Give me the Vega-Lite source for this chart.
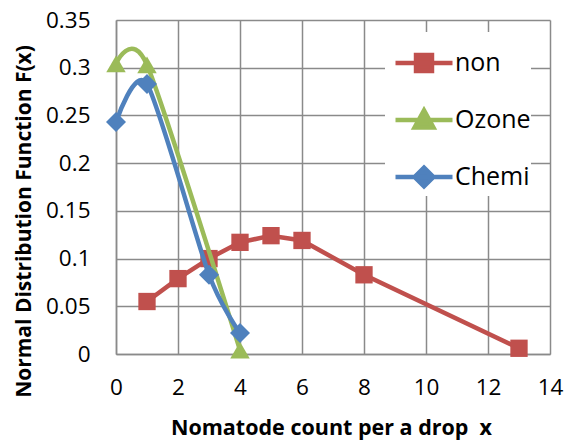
{
  "$schema": "https://vega.github.io/schema/vega-lite/v6.json",
  "autosize": {"type": "none"},
  "width": 434,
  "height": 334,
  "padding": {"left": 116, "top": 20, "right": 15, "bottom": 86},
  "background": "white",
  "config": {
    "view": {"stroke": null},
    "font": "Open Sans"
  },
  "data": {
    "values": [
      {"series": "non", "x": 1, "y": 0.055},
      {"series": "non", "x": 2, "y": 0.079},
      {"series": "non", "x": 3, "y": 0.100},
      {"series": "non", "x": 4, "y": 0.117},
      {"series": "non", "x": 5, "y": 0.124},
      {"series": "non", "x": 6, "y": 0.119},
      {"series": "non", "x": 8, "y": 0.083},
      {"series": "non", "x": 13, "y": 0.006},
      {"series": "Ozone", "x": 0, "y": 0.304},
      {"series": "Ozone", "x": 1, "y": 0.303},
      {"series": "Ozone", "x": 4, "y": 0.004},
      {"series": "Chemi", "x": 0, "y": 0.243},
      {"series": "Chemi", "x": 1, "y": 0.283},
      {"series": "Chemi", "x": 3, "y": 0.083},
      {"series": "Chemi", "x": 4, "y": 0.022}
    ]
  },
  "encoding": {
    "x": {
      "field": "x", "type": "quantitative",
      "scale": {"domain": [0, 14], "nice": false, "zero": false},
      "axis": {
        "values": [0, 2, 4, 6, 8, 10, 12, 14],
        "title": "Nomatode count per a drop\u00a0\u00a0x",
        "grid": true, "gridColor": "#8a8a8a", "gridWidth": 1.5,
        "domainColor": "#8a8a8a", "domainWidth": 1.5,
        "ticks": false, "labelFlush": false,
        "labelFontSize": 22.5, "labelColor": "#000", "labelPadding": 40,
        "labelBaseline": "alphabetic",
        "titleFontSize": 21.5, "titleFontWeight": "bold", "titleColor": "#000",
        "titleX": 215, "titleY": 80, "titleBaseline": "alphabetic", "titleAnchor": null
      }
    },
    "y": {
      "field": "y", "type": "quantitative",
      "scale": {"domain": [0, 0.35], "nice": false},
      "axis": {
        "values": [0, 0.05, 0.1, 0.15, 0.2, 0.25, 0.3, 0.35],
        "format": ".2~f",
        "title": "Normal Distribution Function F(x)",
        "grid": true, "gridColor": "#8a8a8a", "gridWidth": 1.5,
        "domainColor": "#8a8a8a", "domainWidth": 1.5,
        "ticks": false, "labelFlush": false,
        "labelFontSize": 22.5, "labelColor": "#000", "labelPadding": 26,
        "titleFontSize": 21, "titleFontWeight": "bold", "titleColor": "#000",
        "titleX": -86, "titleY": 201, "titleBaseline": "alphabetic", "titleAnchor": null
      }
    },
    "color": {
      "field": "series", "type": "nominal",
      "scale": {"domain": ["non", "Ozone", "Chemi"], "range": ["#C0504D", "#9BBB59", "#4F81BD"]},
      "legend": {
        "orient": "none", "legendX": 269, "legendY": 12,
        "title": null, "padding": 0, "symbolOffset": 8,
        "fillColor": "white", "strokeColor": null,
        "symbolSize": 3249, "symbolStrokeWidth": 4.5,
        "labelFontSize": 25, "labelColor": "#000", "labelOffset": 0,
        "rowPadding": 9,
        "encode": {
          "symbols": {
            "update": {
              "shape": {"signal": "datum.value === 'non' ? 'M-1,0H1M-0.28,-0.28H0.28V0.28H-0.28Z' : datum.value === 'Ozone' ? 'M-1,0H1M0,-0.34L0.33,0.26H-0.33Z' : 'M-1,0H1M0,-0.33L0.33,0L0,0.33L-0.33,0Z'"},
              "fill": {"signal": "scale('color', datum.value)"},
              "stroke": {"signal": "scale('color', datum.value)"},
              "strokeWidth": {"value": 4.5},
              "opacity": {"value": 1}
            }
          }
        }
      }
    }
  },
  "layer": [
    {
      "transform": [{"filter": "datum.series === 'non'"}],
      "mark": {"type": "line", "strokeWidth": 4.5}
    },
    {
      "transform": [{"filter": "datum.series === 'non'"}],
      "mark": {"type": "point", "shape": "square", "filled": true, "size": 300, "opacity": 1}
    },
    {
      "transform": [{"filter": "datum.series === 'Ozone'"}],
      "mark": {"type": "line", "strokeWidth": 4.5, "interpolate": "cardinal", "tension": 0.25}
    },
    {
      "transform": [{"filter": "datum.series === 'Ozone'"}],
      "mark": {"type": "point", "shape": "triangle-up", "filled": true, "size": 380, "opacity": 1}
    },
    {
      "transform": [{"filter": "datum.series === 'Chemi'"}],
      "mark": {"type": "line", "strokeWidth": 4.5, "interpolate": "cardinal", "tension": 0.25}
    },
    {
      "transform": [{"filter": "datum.series === 'Chemi'"}],
      "mark": {"type": "point", "shape": "diamond", "filled": true, "size": 400, "opacity": 1}
    }
  ]
}
